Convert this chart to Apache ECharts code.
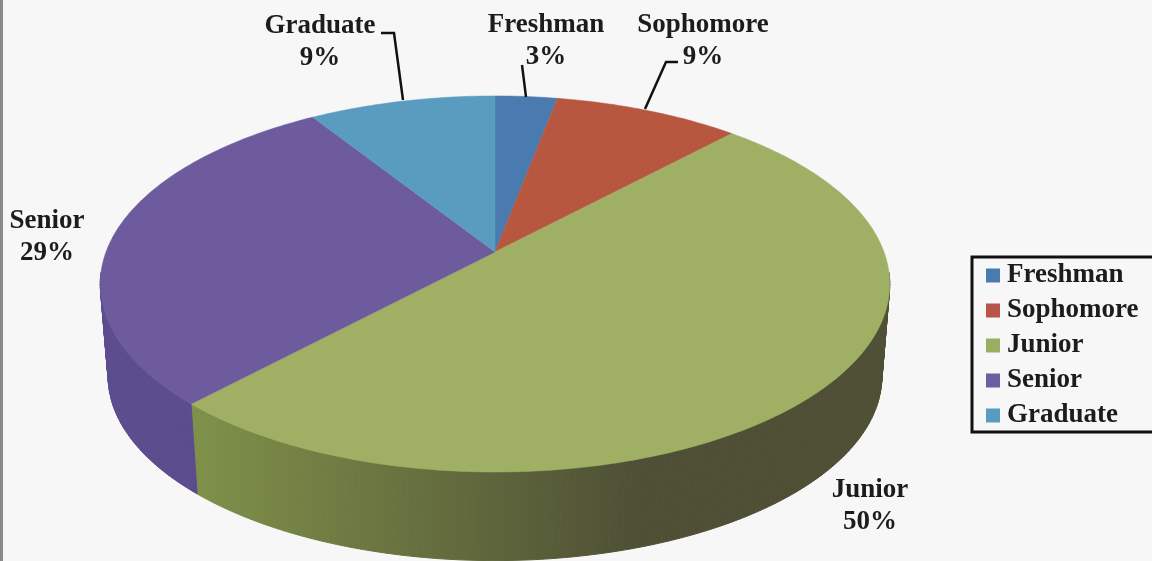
<!DOCTYPE html>
<html>
<head>
<meta charset="utf-8">
<title>Students by class</title>
<style>
  html, body { margin: 0; padding: 0; background: #f7f7f7; }
  #chart { width: 1152px; height: 561px; }
</style>
</head>
<body>
<div id="chart"></div>
<script src="https://cdn.jsdelivr.net/npm/echarts@6/dist/echarts.min.js"></script>
<script>
const categories = ["Freshman", "Sophomore", "Junior", "Senior", "Graduate"];
const shares = [3, 9, 50, 29, 9];

const topColors = ["#4a7bb0", "#b8573f", "#9fb065", "#6d5b9e", "#5a9cbf"];
const legendColors = ["#4a7bb0", "#b9544a", "#9aae62", "#6d5f9f", "#5a9cc0"];
// wall colours, left end then right end of the front arc
const wallColors = [
  ["#3b6390", "#3b6390"],
  ["#93452f", "#93452f"],
  ["#7f9149", "#4e4f35"],
  ["#5b4c8e", "#5b4c8e"],
  ["#487e9b", "#487e9b"]
];

// label text centre and leader line for every slice
const labelSpots = {
  Freshman: { x: 546, y: 41, line: [[522, 65], [526, 97]] },
  Sophomore: { x: 703, y: 41, line: [[678, 62], [666, 62], [645, 109]] },
  Junior: { x: 870, y: 506 },
  Senior: { x: 47, y: 237 },
  Graduate: { x: 320, y: 42, line: [[381, 33], [394, 33], [403, 100]] }
};

const FONT = "bold 27px 'Liberation Serif'";

// pie geometry on screen: a flat disc seen in perspective
const CX = 495;
const TOP_Y = 252;
const BOTTOM_Y = 345;
const RX = 389;
const RY = 182.6;
const PERSPECTIVE = 0.17;
const BOTTOM_SCALE = 0.98;
// rim points above this line belong to the back of the disc, no wall there
const WALL_FROM_Y = 275;

const project = (percent, cy, scale) => {
  const a = (percent / 100) * Math.PI * 2;
  const u = Math.sin(a);
  const v = -Math.cos(a);
  const w = 1 - PERSPECTIVE * v;
  return [CX + (scale * RX * u) / w, cy + (scale * RY * v) / w];
};

const arc = (from, to, cy, scale) => {
  const pts = [];
  const steps = Math.max(2, Math.ceil((to - from) * 4));
  for (let i = 0; i <= steps; i++) {
    pts.push(project(from + ((to - from) * i) / steps, cy, scale));
  }
  return pts;
};

const renderSlice = (idx) => (params, api) => {
  const start = api.value(0);
  const end = start + api.value(1);
  const name = categories[idx];
  const topArc = arc(start, end, TOP_Y, 1);
  const bottomArc = arc(start, end, BOTTOM_Y, BOTTOM_SCALE);
  const spot = labelSpots[name];
  const wallFill = new echarts.graphic.LinearGradient(193, 0, 640, 0, [
    { offset: 0, color: wallColors[idx][0] },
    { offset: 1, color: wallColors[idx][1] }
  ], true);

  const children = [];

  // wall as one quad per step, so the sides bridge the two rims
  for (let i = 0; i < topArc.length - 1; i++) {
    if (topArc[i][1] < WALL_FROM_Y && topArc[i + 1][1] < WALL_FROM_Y) continue;
    children.push({
      type: "polygon",
      z2: 1,
      shape: { points: [topArc[i], topArc[i + 1], bottomArc[i + 1], bottomArc[i]] },
      style: { fill: wallFill, stroke: wallFill, lineWidth: 1 }
    });
  }

  children.push({
    type: "polygon",
    z2: 2,
    shape: { points: [[CX, TOP_Y]].concat(topArc) },
    style: { fill: topColors[idx], stroke: topColors[idx], lineWidth: 0.5 }
  });

  children.push({
    type: "text",
    z2: 4,
    style: {
      x: spot.x,
      y: spot.y,
      text: name + "\n" + api.value(1) + "%",
      font: FONT,
      fill: "#1c1c1c",
      align: "center",
      verticalAlign: "middle",
      lineHeight: 32
    }
  });

  if (spot.line) {
    children.push({
      type: "polyline",
      z2: 3,
      shape: { points: spot.line },
      style: { stroke: "#111", lineWidth: 2.5, fill: "none" }
    });
  }
  return { type: "group", children };
};

let running = 0;
const series = categories.map((name, i) => {
  const start = running;
  running += shares[i];
  return {
    name,
    type: "custom",
    coordinateSystem: "none",
    renderItem: renderSlice(i),
    itemStyle: { color: legendColors[i] },
    silent: true,
    animation: false,
    data: [[start, shares[i]]]
  };
});

const chart = echarts.init(document.getElementById("chart"));
chart.setOption({
  backgroundColor: "#f7f7f7",
  animation: false,
  legend: {
    data: categories,
    orient: "vertical",
    left: 972,
    top: 257,
    padding: [5, 40, 3, 14],
    borderColor: "#111",
    borderWidth: 3,
    itemWidth: 14,
    itemHeight: 14,
    itemGap: 8,
    icon: "rect",
    selectedMode: false,
    textStyle: {
      fontFamily: "Liberation Serif",
      fontWeight: "bold",
      fontSize: 27,
      color: "#1c1c1c",
      padding: [0, 0, 0, 2]
    }
  },
  graphic: [
    {
      type: "rect",
      silent: true,
      shape: { x: 0, y: 0, width: 3, height: 561 },
      style: { fill: "#8a8a8a" }
    }
  ],
  series
});

window.addEventListener("resize", () => chart.resize(), { passive: true });
</script>
</body>
</html>
